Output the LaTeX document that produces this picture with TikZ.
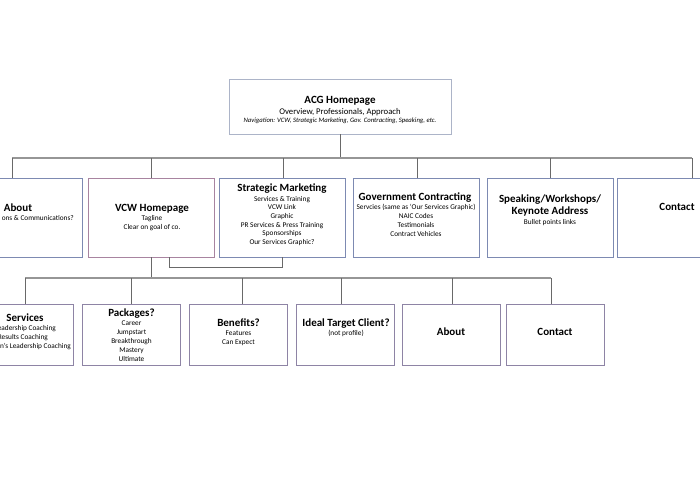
\documentclass[tikz,border=0pt]{standalone}
\usepackage{fontspec}
\setmainfont{Carlito}
\definecolor{topframe}{RGB}{172,180,200}
\definecolor{frame}{RGB}{125,138,178}
\definecolor{vcwframe}{RGB}{168,132,160}
\definecolor{subframe}{RGB}{142,132,165}
\definecolor{wirecol}{RGB}{105,105,105}
\definecolor{buscol}{RGB}{150,150,150}
\begin{document}
\begin{tikzpicture}[x=1pt,y=-1pt,
  page/.style={draw=#1, line width=0.8pt, inner sep=0pt},
  lvl1/.style={page=#1, minimum width=126pt, minimum height=79pt},
  lvl2/.style={page=#1, minimum width=98pt, minimum height=61pt},
  ttl/.style={anchor=base, inner sep=0pt, font=\bfseries\fontsize{11}{13}\selectfont},
  sub/.style={anchor=base, inner sep=0pt, font=\fontsize{7.3}{8.5}\selectfont},
  wire/.style={draw=wirecol, line width=0.9pt},
  bus/.style={draw=buscol, line width=1.4pt}]
\useasboundingbox (0,0) rectangle (700,500);

% homepage
\node[page=topframe, minimum width=222pt, minimum height=55pt] (acg) at (340,106.5) {};
\node[ttl] (acgT) at (340,103.5) {ACG Homepage};
\node[sub, font=\fontsize{8.7}{10}\selectfont] (acgS) at (340,114.5) {Overview, Professionals, Approach};
\node[sub, font=\itshape\fontsize{6.7}{8}\selectfont] (acgN) at (340,122.5) {Navigation: VCW, Strategic Marketing, Gov. Contracting, Speaking, etc.};

% first row
\node[lvl1=frame] (about) at (19,217.5) {};
\node[lvl1=vcwframe] (vcw) at (151.5,217.5) {};
\node[lvl1=frame] (strat) at (282,217.5) {};
\node[lvl1=frame] (gov) at (416,217.5) {};
\node[lvl1=frame] (speak) at (550,217.5) {};
\node[lvl1=frame] (contact) at (680,217.5) {};

\node[ttl] (aboutT) at (18,211.5) {About};
\node[sub, anchor=base east] (aboutS) at (74,220.5) {ons \& Communications?};
\node[ttl] (vcwT) at (152,211.5) {VCW Homepage};
\node[sub] (vcwS1) at (152,220.5) {Tagline};
\node[sub] (vcwS2) at (152,229.5) {Clear on goal of co.};
\node[ttl] (stratT) at (282,191.5) {Strategic Marketing};
\foreach \t [count=\i from 0] in {Services \& Training, VCW Link, Graphic, PR Services \& Press Training, Sponsorships, Our Services Graphic?}
  \node[sub] (strat-\i) at (282,201+8.7*\i) {\t};
\node[ttl] (govT) at (415,200.5) {Government Contracting};
\foreach \t [count=\i from 0] in {{Servcies (same as ‘Our Services Graphic)}, NAIC Codes, Testimonials, Contract Vehicles}
  \node[sub] (gov-\i) at (416,209+9*\i) {\t};
\node[ttl] (speakT1) at (550,202.5) {Speaking/Workshops/};
\node[ttl] (speakT2) at (550,214.5) {Keynote Address};
\node[sub] (speakS) at (550,224.5) {Bullet points links};
\node[ttl] (contactT) at (677,210.5) {Contact};

% second row
\node[lvl2=subframe] (serv) at (24,334.5) {};
\node[lvl2=subframe] (pack) at (131.5,334.5) {};
\node[lvl2=subframe] (bene) at (238,334.5) {};
\node[lvl2=subframe] (ideal) at (345,334.5) {};
\node[lvl2=subframe] (about2) at (451,334.5) {};
\node[lvl2=subframe] (cont2) at (555,334.5) {};

\node[ttl] (servT) at (25,321.5) {Services};
\node[sub, anchor=base east] (serv-0) at (56,330.5) {eadership Coaching};
\node[sub, anchor=base east] (serv-1) at (48,339.5) {Results Coaching};
\node[sub, anchor=base east] (serv-2) at (71,348.5) {n's Leadership Coaching};
\node[ttl] (packT) at (131.5,316.5) {Packages?};
\foreach \t [count=\i from 0] in {Career, Jumpstart, Breakthrough, Mastery, Ultimate}
  \node[sub] (pack-\i) at (131.5,325.5+9*\i) {\t};
\node[ttl] (beneT) at (238.5,326.5) {Benefits?};
\node[sub] (bene-0) at (238.5,335.5) {Features};
\node[sub] (bene-1) at (238.5,344.5) {Can Expect};
\node[ttl] (idealT) at (346,326.5) {Ideal Target Client?};
\node[sub] (idealS) at (346,335.5) {(not profile)};
\node[ttl] (about2T) at (451,335.5) {About};
\node[ttl] (cont2T) at (555,335.5) {Contact};

% connectors
\coordinate (busA) at (0,158);
\coordinate (busB) at (0,278);
\draw[wire] (acg.south) -- (acg.south |- busA);
\draw[bus] ([xshift=-7pt]about.north |- busA) -- ([xshift=12pt]contact.north |- busA);
\foreach \n/\dx in {about/-7, vcw/0, strat/1, gov/1, speak/0, contact/12}
  \draw[wire] ([xshift=\dx pt]\n.north) -- ([xshift=\dx pt]\n.north |- busA);
\draw[wire] (strat.south) -- ++(0,10) -| ([xshift=18pt]vcw.south);
\draw[wire] (vcw.south) -- (vcw.south |- busB);
\draw[bus] ([xshift=1pt]serv.north |- busB) -- ([xshift=-4pt]cont2.north |- busB);
\foreach \n/\dx in {serv/1, pack/0, bene/4, ideal/-4, about2/1, cont2/-4}
  \draw[wire] ([xshift=\dx pt]\n.north) -- ([xshift=\dx pt]\n.north |- busB);
\end{tikzpicture}
\end{document}
